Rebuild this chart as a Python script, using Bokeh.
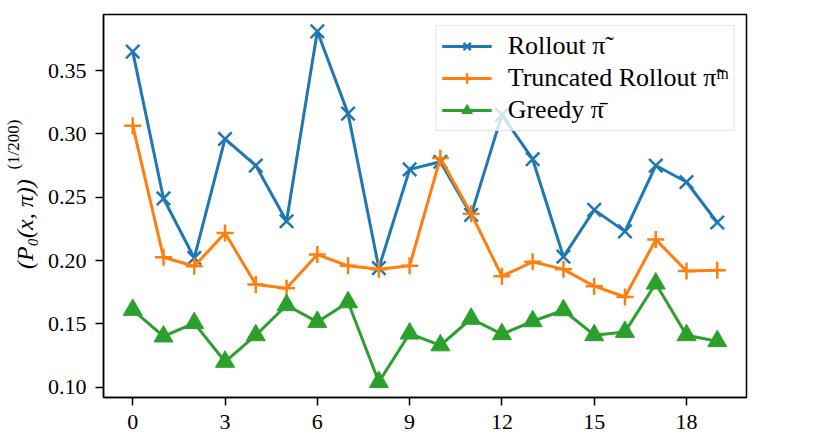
import math
from bokeh.plotting import figure
from bokeh.layouts import row
from bokeh.models import Range1d, FixedTicker, NumeralTickFormatter
from bokeh.embed import file_html
from bokeh.resources import INLINE
from bokeh.core.properties import value

# ---- data ----
xs = list(range(20))
rollout = [0.365, 0.249, 0.202, 0.296, 0.275, 0.231, 0.381, 0.316, 0.194, 0.272,
           0.278, 0.236, 0.315, 0.280, 0.203, 0.240, 0.223, 0.275, 0.262, 0.230]
truncated = [0.3065, 0.2026, 0.1955, 0.2218, 0.181, 0.178, 0.2047, 0.1958, 0.1931, 0.1958,
             0.281, 0.237, 0.1876, 0.199, 0.193, 0.1797, 0.1712, 0.2165, 0.1917, 0.1923]
greedy = [0.161, 0.140, 0.1505, 0.120, 0.141, 0.1647, 0.1515, 0.167, 0.104, 0.1423,
          0.133, 0.154, 0.1418, 0.152, 0.1607, 0.141, 0.1436, 0.1818, 0.141, 0.1363]
x_ticks = [0, 3, 6, 9, 12, 15, 18]
y_ticks = [0.10, 0.15, 0.20, 0.25, 0.30, 0.35]
labels = ["Rollout \u03c0\u0303", "Truncated Rollout \u03c0\u0303\u1d50", "Greedy \u03c0\u0304"]
ylabel_main = "(P\u2080(x, \u03c0))"
ylabel_sup = "(1/200)"
colors = ["#1f77b4", "#ff7f0e", "#2ca02c"]

FONT = "Liberation Serif"
H = 433
LW = 40

# ---- narrow strip holding the rotated y-axis label ----
lab = figure(width=LW, height=H, output_backend="svg", toolbar_location=None,
             x_range=Range1d(0, LW), y_range=Range1d(0, H),
             x_axis_location=None, y_axis_location=None,
             min_border_left=0, min_border_right=0, min_border_top=0, min_border_bottom=0)
lab.outline_line_color = None
lab.xgrid.visible = False
lab.ygrid.visible = False
lab.text(x=[24], y=[H - 237], text=[ylabel_main], angle=math.pi / 2,
         text_font=value(FONT), text_font_size="24px", text_font_style="italic",
         text_align="center", text_baseline="middle", text_color="black")
lab.text(x=[13], y=[H - 147], text=[ylabel_sup], angle=math.pi / 2,
         text_font=value(FONT), text_font_size="17px",
         text_align="center", text_baseline="middle", text_color="black")

# ---- main chart ----
p = figure(width=830 - LW, height=H, output_backend="svg", toolbar_location=None,
           x_range=Range1d(-0.95, 19.95), y_range=Range1d(0.0918, 0.3943),
           min_border_left=103 - LW, min_border_right=84, min_border_top=14, min_border_bottom=36)

p.xgrid.visible = False
p.ygrid.visible = False
p.outline_line_color = "black"
p.outline_line_width = 1.5

p.line(xs, rollout, color=colors[0], line_width=3, legend_label=labels[0])
p.scatter(xs, rollout, marker="x", size=19, line_color=colors[0], line_width=2.5, legend_label=labels[0])

p.line(xs, truncated, color=colors[1], line_width=3, legend_label=labels[1])
p.scatter(xs, truncated, marker="cross", size=17, line_color=colors[1], line_width=2.5, legend_label=labels[1])

p.line(xs, greedy, color=colors[2], line_width=3, legend_label=labels[2])
p.scatter(xs, greedy, marker="triangle", size=19, fill_color=colors[2], line_color=colors[2],
          line_width=1, legend_label=labels[2])

for ax in (p.xaxis, p.yaxis):
    ax.axis_line_color = "black"
    ax.axis_line_width = 1.5
    ax.major_tick_line_color = "black"
    ax.major_tick_line_width = 1.5
    ax.major_tick_out = 8
    ax.major_tick_in = 0
    ax.minor_tick_line_color = None
    ax.major_label_text_font = FONT
    ax.major_label_text_font_size = "22px"
    ax.major_label_text_color = "black"

p.xaxis.ticker = FixedTicker(ticks=x_ticks)
p.yaxis.ticker = FixedTicker(ticks=y_ticks)
p.yaxis.formatter = NumeralTickFormatter(format="0.00")
p.xaxis.major_label_standoff = 9
p.yaxis.major_label_standoff = 9

lg = p.legend[0]
lg.location = "top_right"
lg.margin = 11
lg.padding = 5
lg.spacing = 2
lg.label_height = 26
lg.glyph_height = 26
lg.glyph_width = 50
lg.label_standoff = 16
lg.label_text_font = FONT
lg.label_text_font_size = "26px"
lg.label_text_color = "black"
lg.border_line_color = "#cccccc"
lg.border_line_width = 1
lg.background_fill_color = "white"
lg.background_fill_alpha = 0.8

layout = row(lab, p, spacing=0)
open("out.html", "w").write(file_html(layout, INLINE))
